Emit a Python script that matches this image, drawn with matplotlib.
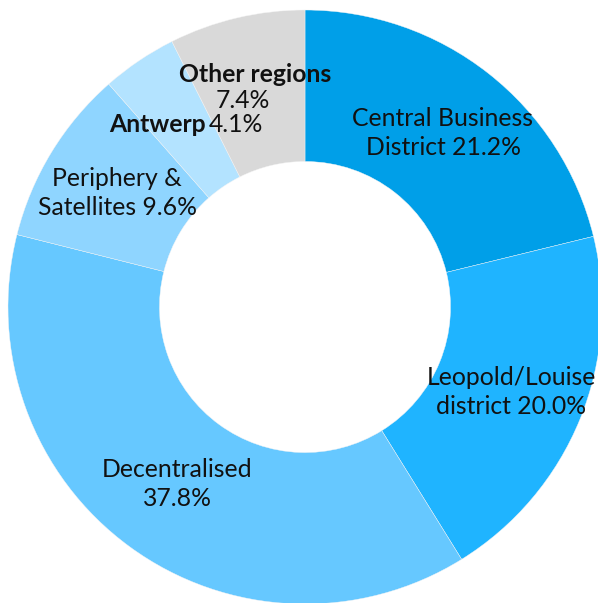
import matplotlib
matplotlib.use("Agg")
import matplotlib.pyplot as plt

# share of office stock by region (%)
regions = ["Central Business District", "Leopold/Louise district", "Decentralised",
           "Periphery & Satellites", "Antwerp", "Other regions"]
shares = [21.2, 20.0, 37.8, 9.6, 4.1, 7.4]
colors = ["#009fe8", "#1fb4ff", "#66c8ff", "#8fd5ff", "#b3e3ff", "#d9d9d9"]

W, H = 598, 603
fig = plt.figure(figsize=(W / 100, H / 100), dpi=100)
ax = fig.add_axes([0, 0, 1, 1])

cx, cy, r_out = 305, H - 307, 297
hole = 0.49
ax.pie(shares, colors=colors, startangle=90, counterclock=False,
       center=(cx, cy), radius=r_out, frame=True,
       wedgeprops=dict(width=r_out * (1 - hole), edgecolor="#f4f4f4", linewidth=0.3))
ax.set_xlim(0, W)
ax.set_ylim(0, H)
ax.set_aspect("equal")
ax.axis("off")

plt.rcParams["font.family"] = ["Lato", "DejaVu Sans"]
fs = 17.8

# label text placement (pixel coords from the top-left)
def put(x, y, s, **kw):
    ax.text(x, H - y, s, ha="center", va="center", fontsize=fs,
            linespacing=1.3, color="#111111", **kw)

put(443, 133, "Central Business\nDistrict %.1f%%" % shares[0])
put(511, 392, "Leopold/Louise\ndistrict %.1f%%" % shares[1])
put(177, 484, "Decentralised\n%.1f%%" % shares[2])
put(117, 193, "Periphery &\nSatellites %.1f%%" % shares[3])
put(157, 124, "Antwerp", fontweight="bold")
put(236, 124, "%.1f%%" % shares[4])
put(255, 75, "Other regions", fontweight="bold")
put(243, 101, "%.1f%%" % shares[5])

fig.savefig("out.png", dpi=100)
